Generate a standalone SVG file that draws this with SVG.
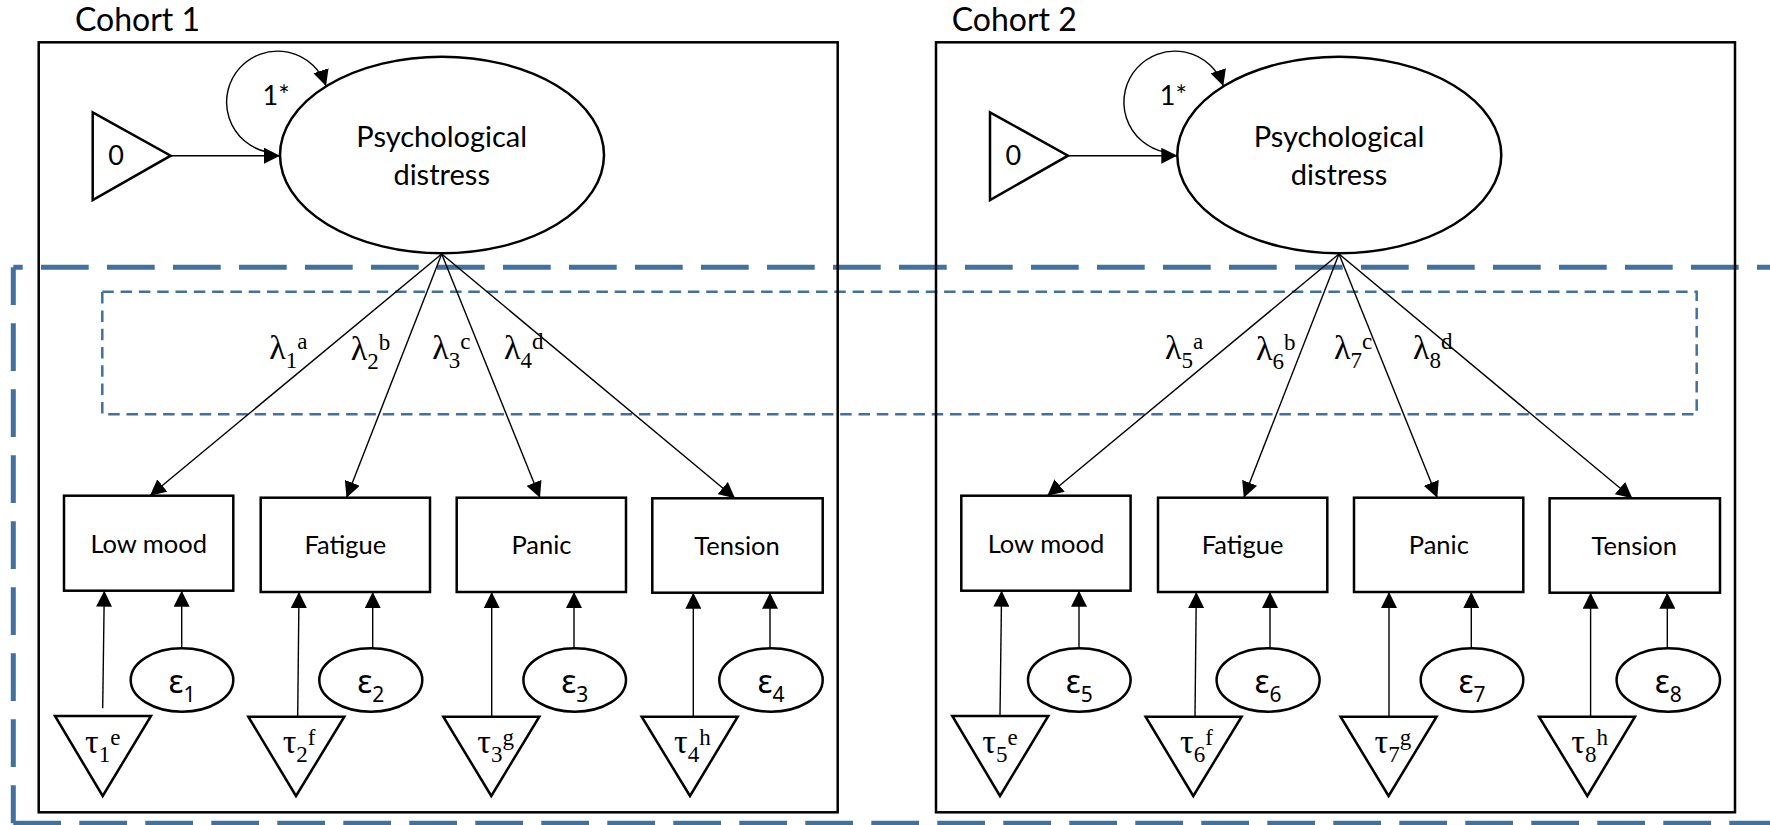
<svg xmlns="http://www.w3.org/2000/svg" width="1770" height="825" viewBox="0 0 1770 825">
<style>
.frame{fill:none;stroke:#000;stroke-width:2.5}
.node{fill:#fff;stroke:#000;stroke-width:2.5}
.edge{fill:none;stroke:#000;stroke-width:1.4;marker-end:url(#ah)}
.sans{font-family:Lato,'Liberation Sans',sans-serif;fill:#000}
.greek{font-family:'Noto Sans','Liberation Sans',sans-serif;fill:#000}
.mid{text-anchor:middle}
.thick{fill:none;stroke:#41719C;stroke-width:5;stroke-dasharray:47.7 18.3}
.thin{fill:none;stroke:#41719C;stroke-width:2.5;stroke-dasharray:11.5 6.8}
text.tnr{font-family:'Liberation Serif','Times New Roman',serif;font-size:34px;fill:#000}
tspan.s{font-size:23px}
</style>
<defs>
<marker id="ah" markerUnits="userSpaceOnUse" viewBox="0 0 16 16" markerWidth="16" markerHeight="16" refX="16" refY="8" orient="auto">
<path d="M0,0 L16,8 L0,16 Z" fill="#000"/>
</marker>
</defs>

<g id="invariance-frame">
<path class="thick" d="M13.3,267.3 H1780" stroke-dashoffset="38.3"/>
<path class="thick" d="M13.3,267.3 V823.3" stroke-dashoffset="10"/>
<path class="thick" d="M13.3,823.3 H1780"/>
<rect class="thin" x="102.3" y="291.7" width="1594.4" height="122.6"/>
</g>

<g id="cohort1-frame">
<rect class="frame" x="38.7" y="42.3" width="799" height="770"/>
<text class="sans" x="75" y="31" font-size="32">Cohort 1</text>
</g>
<g id="cohort2-frame">
<rect class="frame" x="936" y="42.3" width="799" height="770"/>
<text class="sans" x="951.7" y="31" font-size="32">Cohort 2</text>
</g>

<g id="connectors-cohort1">
<path class="edge" d="M170.7,155.7 L280,155.7"/>
<path class="edge" d="M267,152 A51,51 0 1 1 326,86"/>
<text class="sans" x="262.5" y="105" font-size="27">1*</text>
<path class="edge" d="M441.7,254 L150,495.7"/>
<path class="edge" d="M441.7,254 L346.5,497.7"/>
<path class="edge" d="M441.7,254 L540,497.7"/>
<path class="edge" d="M441.7,254 L735,498.3"/>
<text class="tnr" x="269.3" y="359">λ<tspan class="s" dy="9.3">1</tspan><tspan class="s" dy="-19">a</tspan></text>
<text class="tnr" x="350.7" y="360">λ<tspan class="s" dy="9.3">2</tspan><tspan class="s" dy="-19">b</tspan></text>
<text class="tnr" x="432.3" y="359">λ<tspan class="s" dy="9.3">3</tspan><tspan class="s" dy="-19">c</tspan></text>
<text class="tnr" x="504" y="359">λ<tspan class="s" dy="9.3">4</tspan><tspan class="s" dy="-19">d</tspan></text>
<path class="edge" d="M102.7,708.3 L104.3,590.7"/>
<path class="edge" d="M297.7,716.7 L299,592"/>
<path class="edge" d="M491.7,716.7 L491.7,592"/>
<path class="edge" d="M693.3,716.7 L693.3,592.7"/>
<path class="edge" d="M181.7,648.3 L181.7,590.7"/>
<path class="edge" d="M372.7,648.3 L372.7,592"/>
<path class="edge" d="M574,648.3 L574,592"/>
<path class="edge" d="M770,648.3 L770,592.7"/>
</g>

<g id="cohort1-nodes">
<g id="c1-mean0"><polygon class="node" points="92.7,112.3 92.7,200 170.7,155.7"/><text class="sans mid" x="116" y="165" font-size="27">0</text></g>
<g id="c1-distress"><ellipse class="node" cx="442" cy="155" rx="162" ry="98.3"/><text class="sans mid" x="441.7" y="146.7" font-size="29">Psychological</text><text class="sans mid" x="441.7" y="185" font-size="29">distress</text></g>
<g id="c1-lowmood"><rect class="node" x="64" y="495.7" width="169.3" height="95"/><text class="sans mid" x="148.7" y="552.7" font-size="25.5">Low mood</text></g>
<g id="c1-fatigue"><rect class="node" x="260.7" y="497.7" width="169.3" height="94.3"/><text class="sans mid" x="345.3" y="554.3" font-size="25.5">Fatigue</text></g>
<g id="c1-panic"><rect class="node" x="456.7" y="497.7" width="169.3" height="94.3"/><text class="sans mid" x="541.5" y="554.3" font-size="25.5">Panic</text></g>
<g id="c1-tension"><rect class="node" x="652.3" y="498.3" width="170.4" height="94.4"/><text class="sans mid" x="737" y="555" font-size="25.5">Tension</text></g>
<g id="c1-eps1"><ellipse class="node" cx="182" cy="680" rx="51.3" ry="31.7"/><text class="greek mid" x="182" y="693.3" font-size="32">ε<tspan font-size="21" dy="8.4">1</tspan></text></g>
<g id="c1-eps2"><ellipse class="node" cx="370.8" cy="680" rx="51.5" ry="31.7"/><text class="greek mid" x="370.8" y="693.3" font-size="32">ε<tspan font-size="21" dy="8.4">2</tspan></text></g>
<g id="c1-eps3"><ellipse class="node" cx="574.7" cy="680" rx="51.3" ry="31.7"/><text class="greek mid" x="574.7" y="693.3" font-size="32">ε<tspan font-size="21" dy="8.4">3</tspan></text></g>
<g id="c1-eps4"><ellipse class="node" cx="771" cy="680" rx="51.7" ry="31.7"/><text class="greek mid" x="771" y="693.3" font-size="32">ε<tspan font-size="21" dy="8.4">4</tspan></text></g>
<g id="c1-tau1"><polygon class="node" points="55,716 151,716 102.7,796"/><text class="tnr" x="85" y="753.3">τ<tspan class="s" dy="8.4">1</tspan><tspan class="s" dy="-16.7">e</tspan></text></g>
<g id="c1-tau2"><polygon class="node" points="248.3,716.7 344.3,716.7 296,796"/><text class="tnr" x="282.7" y="753.3">τ<tspan class="s" dy="8.4">2</tspan><tspan class="s" dy="-16.7">f</tspan></text></g>
<g id="c1-tau3"><polygon class="node" points="443.3,716.7 539.3,716.7 491.3,796"/><text class="tnr" x="477.3" y="753.3">τ<tspan class="s" dy="8.4">3</tspan><tspan class="s" dy="-16.7">g</tspan></text></g>
<g id="c1-tau4"><polygon class="node" points="641.7,716.7 737.7,716.7 690,796"/><text class="tnr" x="674" y="753.3">τ<tspan class="s" dy="8.4">4</tspan><tspan class="s" dy="-16.7">h</tspan></text></g>
</g>

<g transform="translate(897.3,0)">
<g id="connectors-cohort2">
<path class="edge" d="M170.7,155.7 L280,155.7"/>
<path class="edge" d="M267,152 A51,51 0 1 1 326,86"/>
<text class="sans" x="262.5" y="105" font-size="27">1*</text>
<path class="edge" d="M441.7,254 L150,495.7"/>
<path class="edge" d="M441.7,254 L346.5,497.7"/>
<path class="edge" d="M441.7,254 L540,497.7"/>
<path class="edge" d="M441.7,254 L735,498.3"/>
<text class="tnr" x="267.7" y="359">λ<tspan class="s" dy="9.3">5</tspan><tspan class="s" dy="-19">a</tspan></text>
<text class="tnr" x="358.7" y="360">λ<tspan class="s" dy="9.3">6</tspan><tspan class="s" dy="-19">b</tspan></text>
<text class="tnr" x="436.7" y="359">λ<tspan class="s" dy="9.3">7</tspan><tspan class="s" dy="-19">c</tspan></text>
<text class="tnr" x="515.7" y="359">λ<tspan class="s" dy="9.3">8</tspan><tspan class="s" dy="-19">d</tspan></text>
<path class="edge" d="M102.7,716 L104.3,590.7"/>
<path class="edge" d="M297.7,716.7 L299,592"/>
<path class="edge" d="M491.7,716.7 L491.7,592"/>
<path class="edge" d="M693.3,716.7 L693.3,592.7"/>
<path class="edge" d="M181.7,648.3 L181.7,590.7"/>
<path class="edge" d="M372.7,648.3 L372.7,592"/>
<path class="edge" d="M574,648.3 L574,592"/>
<path class="edge" d="M770,648.3 L770,592.7"/>
</g>
<g id="cohort2-nodes">
<g id="c2-mean0"><polygon class="node" points="92.7,112.3 92.7,200 170.7,155.7"/><text class="sans mid" x="116" y="165" font-size="27">0</text></g>
<g id="c2-distress"><ellipse class="node" cx="442" cy="155" rx="162" ry="98.3"/><text class="sans mid" x="441.7" y="146.7" font-size="29">Psychological</text><text class="sans mid" x="441.7" y="185" font-size="29">distress</text></g>
<g id="c2-lowmood"><rect class="node" x="64" y="495.7" width="169.3" height="95"/><text class="sans mid" x="148.7" y="552.7" font-size="25.5">Low mood</text></g>
<g id="c2-fatigue"><rect class="node" x="260.7" y="497.7" width="169.3" height="94.3"/><text class="sans mid" x="345.3" y="554.3" font-size="25.5">Fatigue</text></g>
<g id="c2-panic"><rect class="node" x="456.7" y="497.7" width="169.3" height="94.3"/><text class="sans mid" x="541.5" y="554.3" font-size="25.5">Panic</text></g>
<g id="c2-tension"><rect class="node" x="652.3" y="498.3" width="170.4" height="94.4"/><text class="sans mid" x="737" y="555" font-size="25.5">Tension</text></g>
<g id="c2-eps5"><ellipse class="node" cx="182" cy="680" rx="51.3" ry="31.7"/><text class="greek mid" x="182" y="693.3" font-size="32">ε<tspan font-size="21" dy="8.4">5</tspan></text></g>
<g id="c2-eps6"><ellipse class="node" cx="370.8" cy="680" rx="51.5" ry="31.7"/><text class="greek mid" x="370.8" y="693.3" font-size="32">ε<tspan font-size="21" dy="8.4">6</tspan></text></g>
<g id="c2-eps7"><ellipse class="node" cx="574.7" cy="680" rx="51.3" ry="31.7"/><text class="greek mid" x="574.7" y="693.3" font-size="32">ε<tspan font-size="21" dy="8.4">7</tspan></text></g>
<g id="c2-eps8"><ellipse class="node" cx="771" cy="680" rx="51.7" ry="31.7"/><text class="greek mid" x="771" y="693.3" font-size="32">ε<tspan font-size="21" dy="8.4">8</tspan></text></g>
<g id="c2-tau5"><polygon class="node" points="55,716 151,716 102.7,796"/><text class="tnr" x="85" y="753.3">τ<tspan class="s" dy="8.4">5</tspan><tspan class="s" dy="-16.7">e</tspan></text></g>
<g id="c2-tau6"><polygon class="node" points="248.3,716.7 344.3,716.7 296,796"/><text class="tnr" x="282.7" y="753.3">τ<tspan class="s" dy="8.4">6</tspan><tspan class="s" dy="-16.7">f</tspan></text></g>
<g id="c2-tau7"><polygon class="node" points="443.3,716.7 539.3,716.7 491.3,796"/><text class="tnr" x="477.3" y="753.3">τ<tspan class="s" dy="8.4">7</tspan><tspan class="s" dy="-16.7">g</tspan></text></g>
<g id="c2-tau8"><polygon class="node" points="641.7,716.7 737.7,716.7 690,796"/><text class="tnr" x="674" y="753.3">τ<tspan class="s" dy="8.4">8</tspan><tspan class="s" dy="-16.7">h</tspan></text></g>
</g>
</g>
</svg>
